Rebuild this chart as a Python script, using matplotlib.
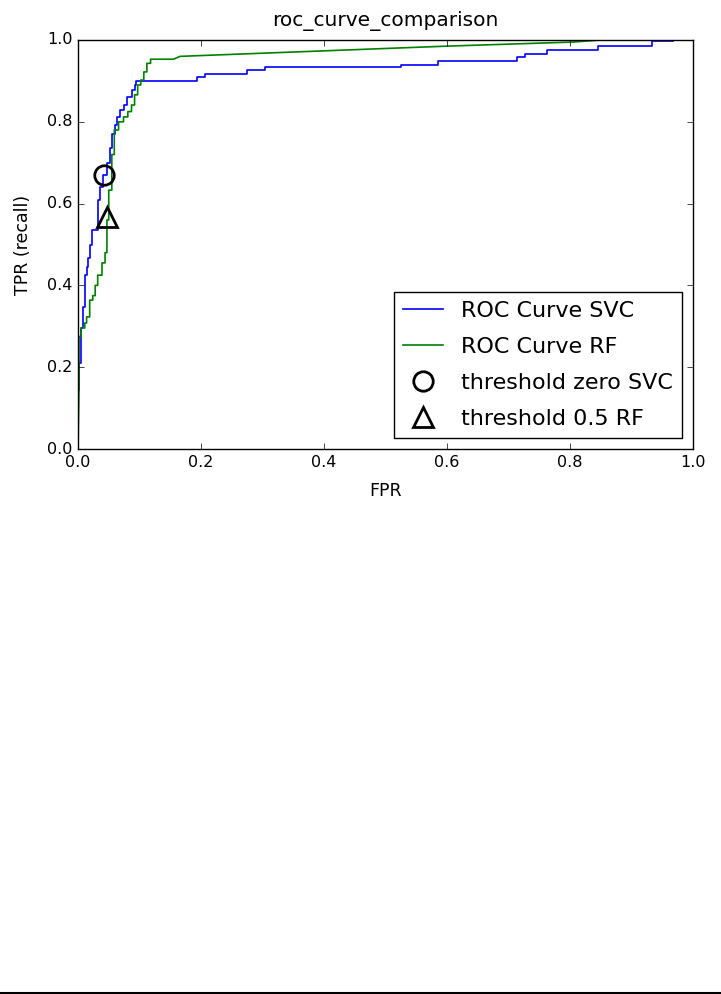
import matplotlib
matplotlib.use("Agg")
import matplotlib.pyplot as plt
from matplotlib.lines import Line2D

plt.style.use("classic")
plt.rcParams["font.family"] = ["DejaVu Sans"]

# ROC curve SVC (step curve vertices)
svc_fpr = [0.0, 0.0, 0.0016, 0.0016, 0.0043, 0.0043, 0.0076, 0.0076, 0.011, 0.011,
           0.014, 0.014, 0.017, 0.017, 0.0195, 0.0195, 0.022, 0.022, 0.033, 0.033,
           0.036, 0.036, 0.041, 0.041, 0.047, 0.047, 0.052, 0.052, 0.056, 0.056,
           0.060, 0.060, 0.064, 0.064, 0.069, 0.069, 0.074, 0.074, 0.079, 0.079,
           0.087, 0.087, 0.092, 0.092, 0.095, 0.095, 0.193, 0.193, 0.206, 0.206,
           0.274, 0.274, 0.304, 0.304, 0.526, 0.526, 0.586, 0.586, 0.714, 0.714,
           0.727, 0.727, 0.762, 0.762, 0.846, 0.846, 0.933, 0.933, 0.967]
svc_tpr = [0.0, 0.145, 0.145, 0.21, 0.21, 0.296, 0.296, 0.348, 0.348, 0.425,
           0.425, 0.445, 0.445, 0.467, 0.467, 0.50, 0.50, 0.535, 0.535, 0.61,
           0.61, 0.64, 0.64, 0.67, 0.67, 0.70, 0.70, 0.735, 0.735, 0.77,
           0.77, 0.792, 0.792, 0.812, 0.812, 0.829, 0.829, 0.841, 0.841, 0.860,
           0.860, 0.878, 0.878, 0.89, 0.89, 0.90, 0.90, 0.909, 0.909, 0.918,
           0.918, 0.926, 0.926, 0.934, 0.934, 0.94, 0.94, 0.949, 0.949, 0.958,
           0.958, 0.966, 0.966, 0.976, 0.976, 0.985, 0.985, 0.998, 0.998]

# ROC curve RF (step curve vertices)
rf_fpr = [0.0, 0.0016, 0.0016, 0.005, 0.005, 0.011, 0.011, 0.014, 0.014, 0.019,
          0.019, 0.024, 0.024, 0.028, 0.028, 0.032, 0.032, 0.039, 0.039, 0.044,
          0.044, 0.047, 0.047, 0.050, 0.050, 0.055, 0.055, 0.059, 0.059, 0.066,
          0.066, 0.074, 0.074, 0.081, 0.081, 0.087, 0.087, 0.092, 0.092, 0.097,
          0.097, 0.102, 0.102, 0.107, 0.107, 0.112, 0.112, 0.118, 0.118, 0.155,
          0.166, 0.60, 0.805, 0.85, 0.935, 1.0]
rf_tpr = [0.0, 0.145, 0.275, 0.275, 0.296, 0.296, 0.308, 0.308, 0.323, 0.323,
          0.364, 0.364, 0.375, 0.375, 0.40, 0.40, 0.425, 0.425, 0.455, 0.455,
          0.48, 0.48, 0.56, 0.56, 0.633, 0.633, 0.72, 0.72, 0.78, 0.78,
          0.80, 0.80, 0.812, 0.812, 0.825, 0.825, 0.841, 0.841, 0.866, 0.866,
          0.89, 0.89, 0.902, 0.902, 0.922, 0.922, 0.943, 0.943, 0.953, 0.953,
          0.96, 0.985, 0.995, 1.0, 1.0, 1.0]

# threshold markers
svc_zero = (0.042, 0.670)
rf_half = (0.047, 0.567)

labels = ["ROC Curve SVC", "ROC Curve RF", "threshold zero SVC", "threshold 0.5 RF"]

W, H = 721, 994
fig = plt.figure(figsize=(W / 100, H / 100), dpi=100, facecolor="white")
ax = fig.add_axes([78 / W, 1 - 449 / H, (693 - 78) / W, (449 - 40) / H])

ax.plot(svc_fpr, svc_tpr, color="b", lw=1.2, label=labels[0])
ax.plot(rf_fpr, rf_tpr, color="g", lw=1.2, label=labels[1])
ax.plot(svc_zero[0], svc_zero[1], "o", markersize=14, mfc="none", mec="k",
        mew=2, label=labels[2])
ax.plot(rf_half[0], rf_half[1], "^", markersize=14, mfc="none", mec="k",
        mew=2, label=labels[3])

ax.set_xlim(0, 1)
ax.set_ylim(0, 1)
ax.set_xticks([0.0, 0.2, 0.4, 0.6, 0.8, 1.0])
ax.set_yticks([0.0, 0.2, 0.4, 0.6, 0.8, 1.0])
ax.tick_params(labelsize=11.5)
ax.set_xlabel("FPR", fontsize=12.5, labelpad=9)
ax.set_ylabel("TPR (recall)", fontsize=12.5, labelpad=11)
ax.set_title("roc_curve_comparison", fontsize=14.5, pad=10)
ax.legend(loc=4, numpoints=1, fontsize=16, frameon=True, fancybox=False,
          labelspacing=0.72, handlelength=1.8, borderaxespad=0.5)

fig.add_artist(Line2D([0, 1], [1.5 / H, 1.5 / H], color="k", lw=1.5,
                      transform=fig.transFigure))

fig.savefig("out.png", dpi=100, facecolor="white")
